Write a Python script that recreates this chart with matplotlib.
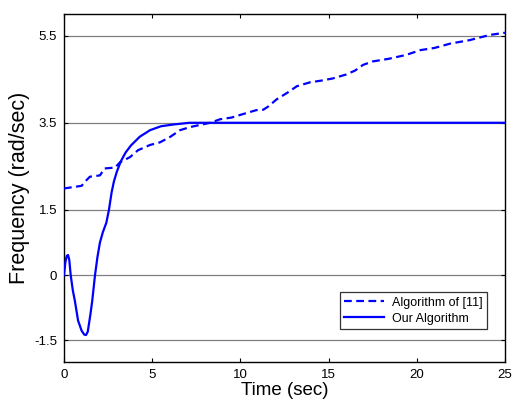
import matplotlib.pyplot as plt

plt.rcParams["font.family"] = ["Liberation Sans", "DejaVu Sans"]

# Algorithm of [11] (dashed)
t_ref = [0.0, 0.5, 1.0, 1.2, 1.47, 2.04, 2.3, 2.9, 3.17, 3.74, 4.2, 4.88, 5.44, 6.0,
         6.58, 7.14, 7.7, 8.3, 8.84, 9.5, 10.15, 10.9, 11.3, 11.6, 12.06, 12.7, 13.2,
         13.95, 14.6, 15.25, 16.0, 16.5, 16.95, 17.5, 18.4, 19.4, 20.2, 21.0, 21.9,
         23.0, 24.15, 25.0]
f_ref = [1.99, 2.02, 2.05, 2.15, 2.26, 2.29, 2.45, 2.47, 2.59, 2.71, 2.87, 2.99, 3.05,
         3.17, 3.33, 3.4, 3.45, 3.5, 3.58, 3.62, 3.70, 3.79, 3.80, 3.88, 4.04, 4.2, 4.34,
         4.43, 4.47, 4.52, 4.61, 4.70, 4.83, 4.91, 4.97, 5.06, 5.17, 5.22, 5.32, 5.4,
         5.52, 5.57]

# Our Algorithm (solid)
t_our = [0.0, 0.08, 0.16, 0.23, 0.3, 0.38, 0.5, 0.62, 0.8, 1.0, 1.15, 1.25, 1.35, 1.5,
         1.6, 1.76, 1.9, 2.04, 2.2, 2.4, 2.55, 2.7, 2.83, 3.0, 3.23, 3.5, 3.8, 4.3,
         4.88, 5.5, 6.2, 7.1, 8.0, 25.0]
f_our = [0.0, 0.3, 0.44, 0.46, 0.35, 0.0, -0.35, -0.6, -1.05, -1.28, -1.37, -1.38, -1.3,
         -0.9, -0.6, 0.0, 0.42, 0.75, 0.98, 1.2, 1.5, 1.9, 2.15, 2.38, 2.62, 2.82,
         2.98, 3.18, 3.33, 3.42, 3.46, 3.5, 3.5, 3.5]

yticks = [-1.5, 0, 1.5, 3.5, 5.5]
ytick_labels = ["-1.5", "0", "1.5", "3.5", "5.5"]
xticks = [0, 5, 10, 15, 20, 25]

fig = plt.figure(figsize=(5.27, 4.03), dpi=100)
ax = fig.add_axes([0.1214, 0.1017, 0.8368, 0.8635])

for y in yticks:
    ax.axhline(y, color="#808080", linewidth=0.9, zorder=1)

ax.plot(t_ref, f_ref, color="#0000ff", linestyle="--", linewidth=1.6,
        dashes=(3.5, 2), label="Algorithm of [11]", zorder=3)
ax.plot(t_our, f_our, color="#0000ff", linestyle="-", linewidth=1.6,
        label="Our Algorithm", zorder=3)

ax.set_xlim(0, 25)
ax.set_ylim(-2, 6)
ax.set_xticks(xticks)
ax.set_yticks(yticks)
ax.set_yticklabels(ytick_labels)
ax.tick_params(direction="in", top=True, right=True, length=3, width=0.8,
               labelsize=9.5, colors="black", pad=5)
for s in ax.spines.values():
    s.set_linewidth(1.0)

ax.set_xlabel("Time (sec)", fontsize=13.5, labelpad=1)
ax.set_ylabel("Frequency (rad/sec)", fontsize=15.5, labelpad=3)

leg = ax.legend(loc="lower right", bbox_to_anchor=(0.959, 0.095), fontsize=9,
                frameon=True, fancybox=False, handlelength=3.2, borderpad=0.35,
                labelspacing=0.3, handletextpad=0.6, borderaxespad=0)
leg.get_frame().set_edgecolor("black")
leg.get_frame().set_linewidth(0.9)

fig.savefig("out.png", dpi=100)
